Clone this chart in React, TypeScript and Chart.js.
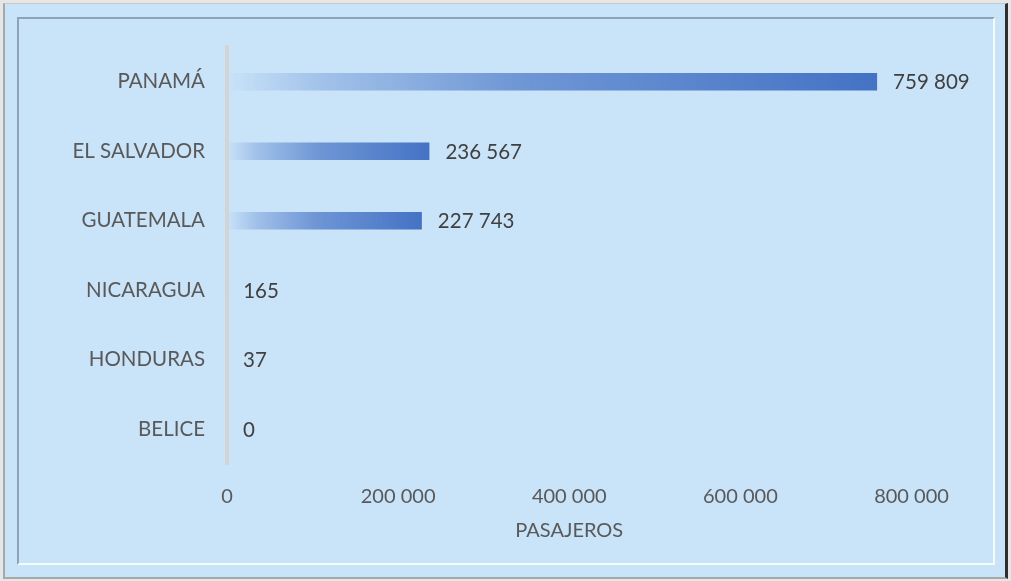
import React, { useEffect, useRef } from "react";
import { Chart, registerables } from "chart.js";

Chart.register(...registerables);

const categories = ["PANAMÁ", "EL SALVADOR", "GUATEMALA", "NICARAGUA", "HONDURAS", "BELICE"];
const passengers = [759809, 236567, 227743, 165, 37, 0];
const xTicks = [0, 200000, 400000, 600000, 800000];
const axisTitle = "PASAJEROS";

const FONT = "Lato, 'Open Sans', sans-serif";
const fmt = (v: number) => String(Math.round(v)).replace(/\B(?=(\d{3})+(?!\d))/g, " ");

const valueLabels = {
  id: "valueLabels",
  afterDatasetsDraw(chart: any) {
    const ctx = chart.ctx;
    const meta = chart.getDatasetMeta(0);
    ctx.save();
    ctx.font = `20.5px ${FONT}`;
    ctx.fillStyle = "#404040";
    ctx.textAlign = "left";
    ctx.textBaseline = "middle";
    meta.data.forEach((el: any, i: number) => {
      ctx.fillText(fmt(passengers[i]), el.x + 16, el.y + 1);
    });
    ctx.restore();
  },
};

export default function App() {
  const ref = useRef<HTMLCanvasElement | null>(null);

  useEffect(() => {
    document.body.style.margin = "0";
    const canvas = ref.current!;
    const chart = new Chart(canvas, {
      type: "bar",
      data: {
        labels: categories,
        datasets: [
          {
            data: passengers,
            barPercentage: 0.25,
            categoryPercentage: 1,
            borderWidth: 0,
            backgroundColor: (c: any) => {
              const ch = c.chart;
              const area = ch.chartArea;
              if (!area || c.dataIndex === undefined) return "#4472C4";
              const xs = ch.scales.x;
              const x0 = xs.getPixelForValue(0);
              const x1 = xs.getPixelForValue(passengers[c.dataIndex]);
              if (x1 - x0 < 1) return "rgba(68,114,196,0.1)";
              const g = ch.ctx.createLinearGradient(x0, 0, x1, 0);
              g.addColorStop(0, "rgba(68,114,196,0)");
              g.addColorStop(0.15, "rgba(68,114,196,0.3)");
              g.addColorStop(0.45, "rgba(68,114,196,0.68)");
              g.addColorStop(1, "rgba(68,114,196,1)");
              return g;
            },
          },
        ],
      },
      options: {
        indexAxis: "y",
        responsive: false,
        animation: false,
        events: [],
        layout: { padding: { left: 0, right: 99.5, top: 47, bottom: 34 } },
        plugins: { legend: { display: false }, tooltip: { enabled: false } },
        scales: {
          x: {
            min: 0,
            max: 800000,
            afterFit: (s: any) => {
              s.height = 83;
            },
            afterBuildTicks: (s: any) => {
              s.ticks = xTicks.map((v) => ({ value: v }));
            },
            grid: { display: false, drawTicks: false },
            border: { display: false },
            ticks: {
              padding: 21,
              color: "#595959",
              font: { family: FONT, size: 20 },
              callback: (v: any) => fmt(Number(v)),
              maxRotation: 0,
            },
            title: {
              display: true,
              text: axisTitle,
              color: "#595959",
              font: { family: FONT, size: 20 },
              padding: { top: 4, bottom: 4 },
            },
          },
          y: {
            afterFit: (s: any) => {
              s.width = 227;
            },
            grid: { display: false, drawTicks: false },
            border: { display: true, color: "#d4d4d4", width: 4 },
            ticks: {
              padding: 22,
              color: "#595959",
              font: { family: FONT, size: 20.5 },
            },
          },
        },
      },
      plugins: [valueLabels],
    } as any);
    return () => chart.destroy();
  }, []);

  return (
    <div style={{ position: "fixed", left: 0, top: 0, width: 1011, height: 581, background: "#e6e6e6" }}>
      <div
        style={{
          position: "absolute",
          left: 3,
          top: 3,
          width: 1000,
          height: 573,
          background: "#C9E3F9",
          borderTop: "1px solid #c8c8c8",
          borderLeft: "2px solid #a8a8a8",
          borderRight: "3px solid #2f2f2f",
          borderBottom: "2px solid #a8a8a8",
        }}
      />
      <div
        style={{
          position: "absolute",
          left: 17,
          top: 17,
          width: 974,
          height: 544,
          borderTop: "2px solid #8fa3b8",
          borderLeft: "2px solid #8fa3b8",
          borderRight: "2px solid #f4fbff",
          borderBottom: "2px solid #f4fbff",
        }}
      />
      <canvas ref={ref} width={1011} height={581} style={{ position: "absolute", left: 0, top: 0 }} />
    </div>
  );
}
